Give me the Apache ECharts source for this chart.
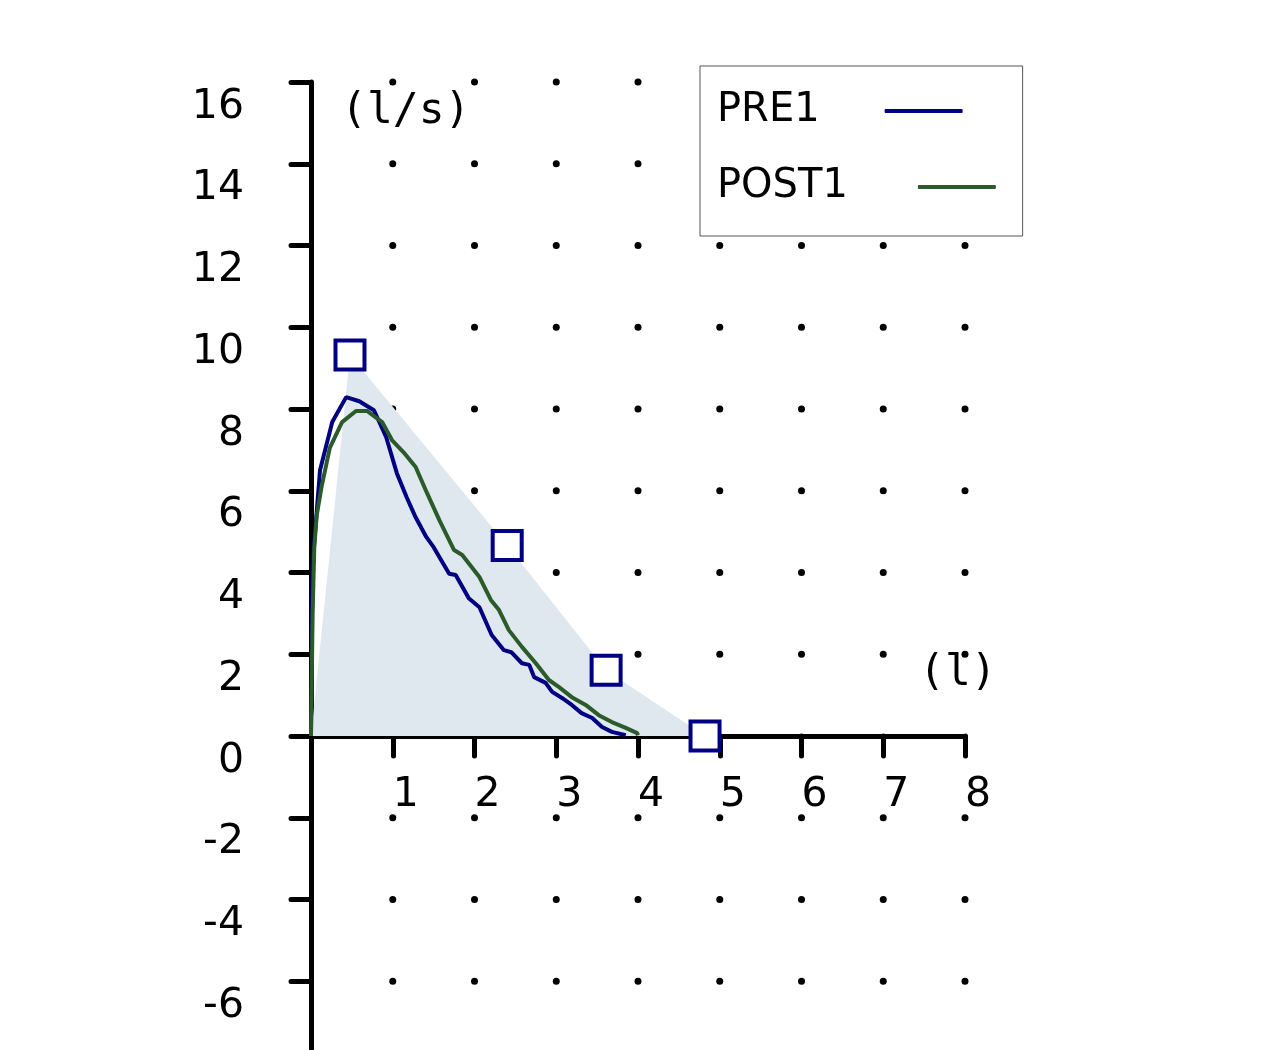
<!DOCTYPE html>
<html><head><meta charset="utf-8">
<script src="https://cdn.jsdelivr.net/npm/echarts@6/dist/echarts.min.js"></script>
<style>html,body{margin:0;padding:0;background:#fff}#c{width:1272px;height:1050px}</style>
</head><body><div id="c"></div>
<script>
// Flow-volume data: [volume (l), flow (l/s)]
const pre1 = [[0,0],[0.005,1.5],[0.02,4.23],[0.11,6.5],[0.26,7.68],[0.43,8.29],[0.59,8.19],[0.77,7.97],[0.92,7.31],[1.05,6.43],[1.17,5.84],[1.28,5.35],[1.41,4.87],[1.50,4.62],[1.69,3.97],[1.77,3.94],[1.93,3.37],[2.06,3.15],[2.21,2.47],[2.36,2.10],[2.45,2.05],[2.58,1.78],[2.67,1.74],[2.73,1.44],[2.87,1.30],[2.95,1.08],[3.07,0.93],[3.19,0.76],[3.31,0.56],[3.44,0.44],[3.56,0.22],[3.68,0.10],[3.85,0.02]];
const post1 = [[0,0],[0.005,0.7],[0.02,3.0],[0.04,4.6],[0.07,5.4],[0.13,6.1],[0.23,7.05],[0.38,7.68],[0.55,7.95],[0.69,7.95],[0.87,7.68],[0.99,7.24],[1.15,6.9],[1.28,6.58],[1.42,5.94],[1.57,5.28],[1.75,4.55],[1.85,4.43],[2.06,3.89],[2.20,3.33],[2.30,3.08],[2.42,2.59],[2.58,2.18],[2.75,1.78],[2.91,1.37],[3.03,1.20],[3.19,0.95],[3.36,0.76],[3.52,0.51],[3.68,0.34],[3.85,0.20],[3.99,0.07],[4.0,0.02]];
const predicted = [[0,0],[0.477,9.32],[2.40,4.66],[3.61,1.61],[4.82,0]];
const predictedMarkers = [[0.477,9.32],[2.40,4.66],[3.61,1.61],[4.82,0]];
const dotX = [1,2,3,4,5,6,7,8];
const dotY = [-6,-4,-2,2,4,6,8,10,12,14,16];
const seriesNames = ['PRE1','POST1'];
const yUnit = '(l/s)';
const xUnit = '(l)';

const dots = [];
dotX.forEach(x => dotY.forEach(y => dots.push([x, y])));

// axis ranges
const xMin = 0, xMax = 8, yMin = -8, yMax = 16;
const gridTop = 82, gridHeight = 981;
// distance from the grid bottom edge to the y = 0 line (labels of an onZero axis stay at the grid edge)
const zeroToBottom = gridHeight * (0 - yMin) / (yMax - yMin);

const chart = echarts.init(document.getElementById('c'), null, {renderer:'canvas'});
const font = 'DejaVu Sans';
const legendText = {fontFamily: font, fontSize: 40, color: '#000'};
chart.setOption({
  animation: false,
  backgroundColor: '#fff',
  grid: {left: 311, top: gridTop, width: 654, height: gridHeight, outerBoundsMode: 'none', containLabel: false},
  xAxis: {
    type: 'value', min: xMin, max: xMax, interval: 1,
    axisLine: {onZero: true, lineStyle: {color: '#000', width: 5, cap: 'round'}},
    axisTick: {show: true, length: 20, lineStyle: {color: '#000', width: 5, cap: 'round'}},
    splitLine: {show: false},
    axisLabel: {show: true, showMinLabel: false, color: '#000', fontFamily: font, fontSize: 41,
      margin: 38 - zeroToBottom, lineHeight: 42, align: 'left', verticalAlign: 'top'}
  },
  yAxis: {
    type: 'value', min: yMin, max: yMax, interval: 2,
    axisLine: {show: true, onZero: true, lineStyle: {color: '#000', width: 5, cap: 'round'}},
    axisTick: {show: true, length: 20, lineStyle: {color: '#000', width: 5, cap: 'round'}},
    splitLine: {show: false},
    axisLabel: {color: '#000', fontFamily: font, fontSize: 41, margin: 67, lineHeight: 50, verticalAlign: 'top'}
  },
  legend: [
    {
      orient: 'vertical', left: 700, top: 66, align: 'right', z: 4,
      padding: [25, 60, 105, 17], itemWidth: 78, itemHeight: 4,
      backgroundColor: '#fff', borderColor: '#555', borderWidth: 1,
      selectedMode: false,
      textStyle: Object.assign({padding: [0, 60, 0, 0]}, legendText),
      data: [{name: seriesNames[0], icon: 'roundRect'}]
    },
    {
      orient: 'vertical', left: 717, top: 167, align: 'right', z: 5,
      padding: 0, itemWidth: 78, itemHeight: 4,
      selectedMode: false,
      textStyle: Object.assign({padding: [0, 65, 0, 0]}, legendText),
      data: [{name: seriesNames[1], icon: 'roundRect'}]
    }
  ],
  graphic: [
    {type: 'text', left: 341, top: 90, z: 10, style: {text: yUnit, font: '43px "DejaVu Sans Mono"', fill: '#000'}},
    {type: 'text', left: 919, top: 652, z: 10, style: {text: xUnit, font: '43px "DejaVu Sans Mono"', fill: '#000'}}
  ],
  series: [
    {type: 'scatter', name: 'grid', z: 1, data: dots, symbolSize: 7, itemStyle: {color: '#000', opacity: 1}, silent: true},
    {type: 'line', name: 'predicted', z: 2, data: predicted, symbol: 'none', lineStyle: {width: 0},
      areaStyle: {color: '#dfe7ef', opacity: 1}, silent: true},
    {type: 'line', name: seriesNames[0], z: 3, data: pre1, symbol: 'none', color: '#000080',
      lineStyle: {color: '#000080', width: 4}},
    {type: 'line', name: seriesNames[1], z: 3, data: post1, symbol: 'none', color: '#2b5a2b',
      lineStyle: {color: '#2b5a2b', width: 4}},
    {type: 'scatter', name: 'predictedPts', z: 5, data: predictedMarkers, symbol: 'rect', symbolSize: 29,
      itemStyle: {color: '#fff', borderColor: '#000080', borderWidth: 4, opacity: 1}, silent: true}
  ]
});
</script></body></html>
